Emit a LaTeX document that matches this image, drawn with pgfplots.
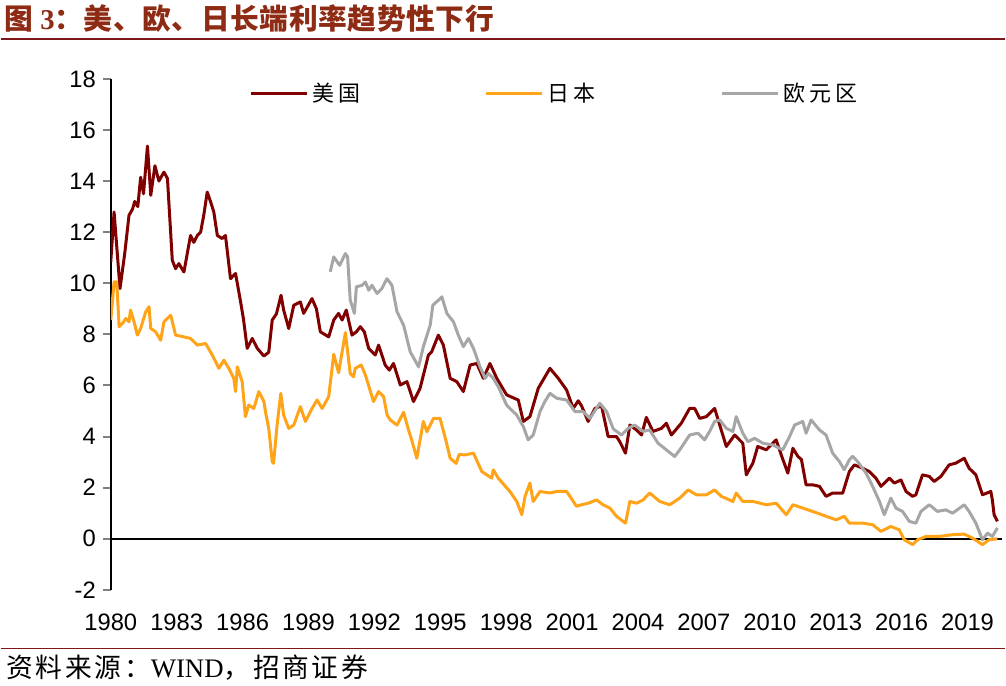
\documentclass[border=0pt]{standalone}
\usepackage{pgfplots}
\pgfplotsset{compat=1.18}
\usepackage{fontspec}
\setmainfont{Liberation Sans}
\newfontfamily\cjk{Noto Sans CJK SC}
\newfontfamily\cjktitle[LetterSpace=2]{Noto Sans CJK SC}
\newfontfamily\cjksource[LetterSpace=10]{Noto Sans CJK SC}
\newfontfamily\tnr{Liberation Serif}

\definecolor{usred}{HTML}{800000}
\definecolor{jporange}{HTML}{FFA319}
\definecolor{eugray}{HTML}{A6A6A6}
\definecolor{titlered}{HTML}{8E2B14}
\definecolor{rulered}{HTML}{7F1719}

% US 10y
\pgfplotstableread{
t v
1980.00 10.84
1980.15 12.79
1980.42 9.79
1980.64 11.20
1980.83 12.66
1980.99 12.90
1981.09 13.20
1981.23 13.00
1981.36 14.15
1981.49 13.50
1981.67 15.37
1981.82 13.44
1982.01 14.60
1982.19 14.00
1982.42 14.35
1982.58 14.10
1982.80 10.90
1982.95 10.57
1983.10 10.77
1983.33 10.44
1983.63 11.87
1983.78 11.60
1983.94 11.87
1984.09 12.00
1984.24 12.70
1984.39 13.57
1984.54 13.20
1984.69 12.79
1984.85 11.87
1985.07 11.75
1985.22 11.87
1985.45 10.18
1985.68 10.38
1985.91 9.27
1986.04 8.60
1986.21 7.45
1986.44 7.84
1986.67 7.45
1986.97 7.15
1987.19 7.30
1987.35 8.56
1987.54 8.80
1987.75 9.53
1987.87 8.95
1988.10 8.23
1988.33 9.14
1988.63 9.27
1988.78 8.82
1989.16 9.40
1989.36 9.00
1989.54 8.10
1989.92 7.90
1990.15 8.56
1990.37 8.82
1990.53 8.56
1990.72 8.95
1990.98 7.97
1991.18 8.10
1991.36 8.30
1991.54 8.10
1991.74 7.45
1992.04 7.19
1992.19 7.58
1992.49 6.80
1992.68 6.60
1992.87 6.86
1993.18 6.02
1993.48 6.15
1993.78 5.37
1994.08 5.89
1994.46 7.19
1994.61 7.32
1994.91 7.97
1995.14 7.58
1995.45 6.28
1995.75 6.15
1996.05 5.76
1996.36 6.80
1996.66 6.86
1996.96 6.28
1997.26 6.86
1997.57 6.28
1998.02 5.63
1998.55 5.43
1998.78 4.59
1999.08 4.78
1999.46 5.89
1999.99 6.67
2000.37 6.28
2000.75 5.82
2001.05 5.10
2001.28 5.40
2001.43 5.20
2001.73 4.59
2002.04 5.10
2002.34 5.20
2002.64 4.00
2003.02 4.00
2003.17 3.80
2003.43 3.35
2003.63 4.45
2003.93 4.26
2004.16 4.06
2004.38 4.75
2004.68 4.20
2005.07 4.32
2005.29 4.52
2005.52 4.06
2005.97 4.52
2006.35 5.10
2006.58 5.10
2006.81 4.71
2007.11 4.78
2007.49 5.10
2007.72 4.45
2008.02 3.61
2008.40 4.06
2008.77 3.74
2008.93 2.50
2009.23 2.96
2009.45 3.61
2009.84 3.48
2010.29 3.87
2010.52 3.28
2010.82 2.57
2011.05 3.54
2011.28 3.22
2011.44 3.10
2011.65 2.11
2011.95 2.11
2012.26 2.05
2012.56 1.66
2012.86 1.79
2013.32 1.79
2013.62 2.63
2013.85 2.89
2014.23 2.76
2014.53 2.63
2014.83 2.37
2015.06 2.05
2015.44 2.37
2015.67 2.18
2015.97 2.30
2016.20 1.85
2016.50 1.66
2016.65 1.72
2016.95 2.50
2017.26 2.44
2017.48 2.24
2017.79 2.44
2018.16 2.89
2018.47 2.96
2018.85 3.15
2019.07 2.76
2019.38 2.50
2019.68 1.72
2020.06 1.85
2020.13 1.52
2020.21 0.94
2020.36 0.68
}\us

% Japan 10y
\pgfplotstableread{
t v
1980.00 8.56
1980.15 10.05
1980.27 10.05
1980.38 8.30
1980.55 8.45
1980.68 8.62
1980.83 8.49
1980.90 8.95
1981.06 8.49
1981.21 7.97
1981.36 8.23
1981.59 8.88
1981.74 9.08
1981.82 8.23
1982.04 8.10
1982.27 7.77
1982.42 8.49
1982.73 8.75
1982.95 7.97
1983.33 7.90
1983.63 7.84
1983.94 7.58
1984.32 7.64
1984.62 7.19
1984.92 6.67
1985.15 6.99
1985.37 6.67
1985.60 6.28
1985.68 5.76
1985.76 6.73
1985.98 6.15
1986.13 4.78
1986.28 5.23
1986.51 5.10
1986.74 5.76
1986.97 5.37
1987.04 4.98
1987.19 4.32
1987.35 3.02
1987.41 2.95
1987.57 4.45
1987.74 5.69
1987.87 4.84
1988.10 4.32
1988.33 4.45
1988.63 5.17
1988.86 4.59
1989.16 5.10
1989.39 5.43
1989.62 5.10
1989.92 5.56
1990.15 7.22
1990.37 6.50
1990.68 8.07
1990.90 6.47
1991.05 6.34
1991.13 6.67
1991.40 6.80
1991.59 6.41
1991.96 5.37
1992.19 5.76
1992.42 5.56
1992.58 4.84
1992.72 4.65
1993.03 4.45
1993.33 4.95
1993.54 4.30
1993.72 3.80
1993.93 3.15
1994.23 4.59
1994.39 4.19
1994.69 4.71
1994.99 4.71
1995.27 3.80
1995.45 3.15
1995.72 2.95
1995.86 3.30
1996.13 3.28
1996.51 3.35
1996.89 2.63
1997.34 2.37
1997.41 2.70
1997.64 2.37
1998.17 1.85
1998.48 1.46
1998.71 0.94
1998.86 1.66
1999.08 2.18
1999.23 1.46
1999.54 1.85
1999.99 1.79
2000.30 1.85
2000.75 1.85
2001.20 1.27
2001.43 1.33
2001.73 1.39
2002.11 1.52
2002.41 1.33
2002.72 1.20
2003.02 0.88
2003.43 0.61
2003.63 1.46
2003.93 1.39
2004.23 1.52
2004.53 1.79
2004.99 1.46
2005.44 1.33
2005.90 1.59
2006.28 1.91
2006.66 1.72
2007.11 1.72
2007.49 1.91
2007.79 1.66
2008.32 1.46
2008.47 1.79
2008.77 1.46
2009.23 1.46
2009.84 1.33
2010.29 1.39
2010.75 0.94
2011.05 1.33
2011.50 1.20
2011.95 1.07
2012.56 0.88
2013.02 0.74
2013.39 0.88
2013.62 0.61
2014.23 0.61
2014.68 0.55
2015.06 0.29
2015.51 0.48
2015.89 0.35
2016.12 -0.04
2016.50 -0.23
2016.73 -0.04
2017.11 0.09
2017.71 0.09
2018.32 0.16
2018.85 0.18
2019.22 0.03
2019.68 -0.23
2019.98 -0.04
2020.36 0.00
}\jp

% Euro area 10y
\pgfplotstableread{
t v
1989.99 10.45
1990.15 11.03
1990.42 10.70
1990.68 11.16
1990.78 11.03
1990.90 9.34
1991.09 8.82
1991.18 9.86
1991.44 9.92
1991.59 10.05
1991.74 9.73
1991.89 9.92
1992.12 9.60
1992.34 9.79
1992.57 10.18
1992.80 9.92
1993.03 8.88
1993.33 8.36
1993.63 7.32
1994.01 6.73
1994.23 7.52
1994.54 8.36
1994.66 9.14
1994.92 9.34
1995.07 9.47
1995.30 8.82
1995.60 8.49
1995.82 7.97
1996.05 7.52
1996.28 7.84
1996.51 7.45
1996.81 6.73
1997.04 6.28
1997.19 6.47
1997.41 6.28
1997.64 5.95
1998.02 5.23
1998.48 4.84
1998.78 4.39
1999.00 3.87
1999.23 4.06
1999.54 4.98
1999.76 5.37
1999.99 5.69
2000.30 5.50
2000.75 5.43
2001.13 4.98
2001.50 4.98
2001.81 4.71
2002.26 5.30
2002.57 4.98
2002.87 4.30
2003.25 4.06
2003.55 4.32
2003.85 4.45
2004.23 4.20
2004.53 4.26
2004.91 3.74
2005.29 3.48
2005.67 3.22
2005.90 3.48
2006.35 4.06
2006.73 4.13
2007.03 3.87
2007.26 4.20
2007.49 4.59
2007.72 4.65
2008.02 4.32
2008.32 4.20
2008.47 4.78
2008.77 4.13
2009.00 3.80
2009.31 3.93
2009.68 3.74
2010.14 3.67
2010.59 3.48
2010.90 4.00
2011.13 4.45
2011.50 4.59
2011.65 4.13
2011.88 4.65
2012.26 4.26
2012.56 4.06
2012.86 3.35
2013.17 3.02
2013.39 2.70
2013.62 3.09
2013.77 3.22
2014.00 3.02
2014.38 2.57
2014.68 2.05
2014.99 1.46
2015.21 0.94
2015.51 1.59
2015.74 1.20
2016.04 1.07
2016.35 0.68
2016.65 0.61
2016.88 1.07
2017.26 1.33
2017.63 1.07
2018.01 1.13
2018.32 1.00
2018.85 1.33
2019.07 1.07
2019.38 0.61
2019.68 -0.04
2019.91 0.22
2020.13 0.09
2020.36 0.42
}\eu

\begin{document}
\begin{tikzpicture}
% frame, title and source (coordinates in reference pixels)
\begin{scope}[x=0.5pt,y=-0.5pt]
\path (0,0) rectangle (1006,687);
\draw[rulered, line width=1pt] (0,39) -- (1006,39);
\draw[rulered, line width=0.6pt] (0,650) -- (1006,650);
\node[anchor=base west, inner sep=0, text=titlered] at (3,30)
  {\fontsize{14.4}{16}\selectfont\cjktitle\bfseries 图 {\tnr\bfseries 3}：美、欧、日长端利率趋势性下行};
\node[anchor=base west, inner sep=0] at (5,679)
  {\fontsize{13.4}{15}\selectfont\cjksource 资料来源：{\tnr WIND}，招商证券};
\end{scope}

\begin{axis}[
    at={(55pt,-295.5pt)}, anchor=south west,
    width=446.5pt, height=256pt, scale only axis,
    xmin=1980, xmax=2020.57,
    ymin=-2, ymax=18,
    axis y line*=left, axis x line*=bottom,
    x axis line style={draw=none},
    y axis line style={line width=1pt},
    xtick={1980,1983,...,2019},
    xticklabels={1980,1983,1986,1989,1992,1995,1998,2001,2004,2007,2010,2013,2016,2019},
    xtick style={draw=none},
    ytick={-2,0,...,18},
    yticklabels={-2,0,2,4,6,8,10,12,14,16,18},
    ytick style={line width=1pt},
    tick align=outside, major tick length=4pt,
    tick label style={font=\fontsize{11.9}{14}\selectfont},
    xticklabel style={yshift=-4.5pt},
    legend columns=3,
    legend style={at={(0.155,0.9707)}, anchor=west, draw=none, fill=none,
        inner sep=0pt, font=\fontsize{11}{13}\selectfont\cjk,
        /tikz/every even column/.append style={column sep=60.5pt}},
    legend cell align=left,
    legend image code/.code={\draw[#1] (-3pt,0pt) -- (25pt,0pt);},
]
\draw[black, line width=1pt] (axis cs:1980,0) -- (axis cs:2020.57,0);
\addplot[usred, line width=1.5pt, line join=round] table[x=t, y=v] {\us};
\addplot[jporange, line width=1.5pt, line join=round] table[x=t, y=v] {\jp};
\addplot[eugray, line width=1.5pt, line join=round] table[x=t, y=v] {\eu};
\legend{美\hspace{2pt}国, 日\hspace{2pt}本, 欧\hspace{2pt}元\hspace{2pt}区}
\end{axis}
\end{tikzpicture}
\end{document}
